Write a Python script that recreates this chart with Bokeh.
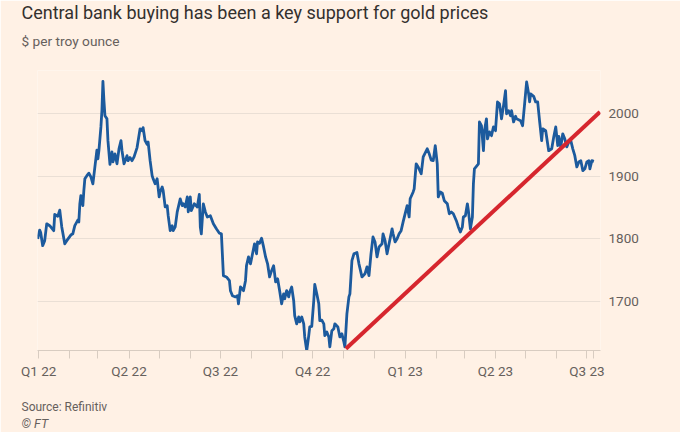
import pandas as pd
from bokeh.plotting import figure
from bokeh.models import Range1d, FixedTicker, Title
from bokeh.embed import file_html
from bokeh.resources import INLINE

# ---- data ----
gold_dates = [
    "2021-12-31", "2022-01-02", "2022-01-03", "2022-01-05", "2022-01-07", "2022-01-09",
    "2022-01-12", "2022-01-16", "2022-01-17", "2022-01-20", "2022-01-22", "2022-01-24",
    "2022-01-27", "2022-01-29", "2022-02-02", "2022-02-04", "2022-02-06", "2022-02-09",
    "2022-02-10", "2022-02-11", "2022-02-12", "2022-02-14", "2022-02-15", "2022-02-16",
    "2022-02-18", "2022-02-20", "2022-02-22", "2022-02-24", "2022-02-26", "2022-02-28",
    "2022-03-01", "2022-03-02", "2022-03-04", "2022-03-05", "2022-03-06", "2022-03-07",
    "2022-03-08", "2022-03-10", "2022-03-11", "2022-03-13", "2022-03-15", "2022-03-16",
    "2022-03-18", "2022-03-20", "2022-03-22", "2022-03-24", "2022-03-25", "2022-03-27",
    "2022-03-30", "2022-03-31", "2022-04-02", "2022-04-04", "2022-04-06", "2022-04-09",
    "2022-04-12", "2022-04-14", "2022-04-15", "2022-04-17", "2022-04-19", "2022-04-20",
    "2022-04-22", "2022-04-24", "2022-04-25", "2022-04-27", "2022-04-29", "2022-05-01",
    "2022-05-02", "2022-05-04", "2022-05-05", "2022-05-07", "2022-05-09", "2022-05-10",
    "2022-05-12", "2022-05-14", "2022-05-15", "2022-05-17", "2022-05-19", "2022-05-22",
    "2022-05-24", "2022-05-25", "2022-05-27", "2022-05-29", "2022-05-30", "2022-06-01",
    "2022-06-02", "2022-06-05", "2022-06-08", "2022-06-10", "2022-06-11", "2022-06-12",
    "2022-06-14", "2022-06-16", "2022-06-18", "2022-06-21", "2022-06-24", "2022-06-27",
    "2022-06-30", "2022-07-02", "2022-07-04", "2022-07-07", "2022-07-10", "2022-07-11",
    "2022-07-13", "2022-07-16", "2022-07-18", "2022-07-19", "2022-07-21", "2022-07-24",
    "2022-07-26", "2022-07-27", "2022-07-29", "2022-07-31", "2022-08-02", "2022-08-04",
    "2022-08-06", "2022-08-07", "2022-08-09", "2022-08-11", "2022-08-13", "2022-08-15",
    "2022-08-17", "2022-08-19", "2022-08-21", "2022-08-23", "2022-08-25", "2022-08-27",
    "2022-08-29", "2022-08-31", "2022-09-02", "2022-09-03", "2022-09-05", "2022-09-07",
    "2022-09-08", "2022-09-10", "2022-09-12", "2022-09-13", "2022-09-15", "2022-09-17",
    "2022-09-18", "2022-09-20", "2022-09-22", "2022-09-23", "2022-09-25", "2022-09-27",
    "2022-09-28", "2022-09-30", "2022-10-02", "2022-10-03", "2022-10-05", "2022-10-07",
    "2022-10-08", "2022-10-10", "2022-10-12", "2022-10-13", "2022-10-15", "2022-10-17",
    "2022-10-18", "2022-10-20", "2022-10-22", "2022-10-23", "2022-10-26", "2022-10-28",
    "2022-10-30", "2022-11-01", "2022-11-02", "2022-11-03", "2022-11-04", "2022-11-06",
    "2022-11-07", "2022-11-09", "2022-11-11", "2022-11-14", "2022-11-16", "2022-11-19",
    "2022-11-22", "2022-11-24", "2022-11-26", "2022-11-28", "2022-11-30", "2022-12-02",
    "2022-12-04", "2022-12-06", "2022-12-09", "2022-12-10", "2022-12-12", "2022-12-14",
    "2022-12-16", "2022-12-19", "2022-12-20", "2022-12-22", "2022-12-24", "2022-12-26",
    "2022-12-28", "2022-12-30", "2023-01-03", "2023-01-05", "2023-01-06", "2023-01-09",
    "2023-01-10", "2023-01-12", "2023-01-14", "2023-01-17", "2023-01-19", "2023-01-23",
    "2023-01-25", "2023-01-27", "2023-01-29", "2023-01-31", "2023-02-02", "2023-02-03",
    "2023-02-05", "2023-02-07", "2023-02-09", "2023-02-12", "2023-02-14", "2023-02-16",
    "2023-02-18", "2023-02-21", "2023-02-23", "2023-02-25", "2023-02-27", "2023-02-28",
    "2023-03-02", "2023-03-04", "2023-03-05", "2023-03-07", "2023-03-09", "2023-03-10",
    "2023-03-11", "2023-03-13", "2023-03-15", "2023-03-16", "2023-03-18", "2023-03-20",
    "2023-03-21", "2023-03-23", "2023-03-24", "2023-03-26", "2023-03-28", "2023-03-30",
    "2023-04-01", "2023-04-03", "2023-04-05", "2023-04-07", "2023-04-09", "2023-04-11",
    "2023-04-12", "2023-04-14", "2023-04-16", "2023-04-17", "2023-04-19", "2023-04-21",
    "2023-04-22", "2023-04-26", "2023-04-28", "2023-04-30", "2023-05-02", "2023-05-04",
    "2023-05-05", "2023-05-06", "2023-05-09", "2023-05-11", "2023-05-13", "2023-05-15",
    "2023-05-17", "2023-05-18", "2023-05-21", "2023-05-24", "2023-05-27", "2023-05-29",
    "2023-05-31", "2023-06-02", "2023-06-03", "2023-06-05", "2023-06-07", "2023-06-09",
    "2023-06-11", "2023-06-13", "2023-06-15", "2023-06-17", "2023-06-19", "2023-06-21",
    "2023-06-23", "2023-06-25", "2023-06-27", "2023-06-29", "2023-07-01", "2023-07-03",
    "2023-07-04", "2023-07-06", "2023-07-08",
]
gold_prices = [
    1800, 1814, 1810, 1789, 1797, 1824,
    1821, 1813, 1839, 1836, 1846, 1819,
    1792, 1797, 1806, 1808, 1821, 1830,
    1827, 1856, 1869, 1853, 1877, 1896,
    1901, 1905, 1899, 1888, 1915, 1942,
    1928, 1941, 1979, 2005, 2052, 2021,
    1997, 1992, 1957, 1919, 1939, 1923,
    1936, 1920, 1944, 1957, 1941, 1920,
    1933, 1925, 1930, 1925, 1931, 1946,
    1976, 1973, 1978, 1957, 1951, 1955,
    1925, 1901, 1896, 1888, 1896, 1867,
    1875, 1883, 1877, 1851, 1853, 1837,
    1813, 1821, 1813, 1819, 1843, 1864,
    1853, 1856, 1851, 1867, 1843, 1867,
    1845, 1856, 1851, 1871, 1819, 1808,
    1856, 1843, 1835, 1837, 1824, 1816,
    1809, 1808, 1741, 1739, 1733, 1717,
    1709, 1707, 1709, 1696, 1723, 1717,
    1733, 1757, 1771, 1760, 1776, 1792,
    1776, 1795, 1793, 1801, 1787, 1771,
    1760, 1739, 1749, 1757, 1731, 1736,
    1717, 1696, 1712, 1704, 1717, 1707,
    1715, 1723, 1701, 1677, 1664, 1675,
    1667, 1675, 1664, 1643, 1621, 1645,
    1659, 1660, 1701, 1727, 1712, 1696,
    1669, 1670, 1664, 1645, 1651, 1643,
    1627, 1653, 1656, 1664, 1659, 1643,
    1648, 1635, 1627, 1653, 1680, 1707,
    1712, 1765, 1776, 1778, 1760, 1739,
    1744, 1755, 1741, 1776, 1803, 1795,
    1771, 1787, 1792, 1808, 1797, 1776,
    1792, 1816, 1808, 1795, 1800, 1808,
    1813, 1827, 1853, 1835, 1864, 1875,
    1880, 1920, 1915, 1904, 1931, 1944,
    1936, 1926, 1925, 1949, 1920, 1867,
    1875, 1873, 1861, 1856, 1840, 1843,
    1840, 1829, 1819, 1811, 1819, 1835,
    1837, 1856, 1845, 1816, 1835, 1888,
    1912, 1916, 1920, 1987, 1981, 1941,
    1973, 1992, 1960, 1971, 1965, 1979,
    1973, 2019, 2016, 1992, 2013, 2037,
    2000, 2005, 1997, 2005, 1987, 1996,
    1992, 1989, 1981, 2016, 2051, 2032,
    2019, 2032, 2028, 2019, 2019, 1987,
    1957, 1976, 1973, 1941, 1944, 1963,
    1979, 1949, 1964, 1947, 1968, 1960,
    1947, 1955, 1957, 1944, 1933, 1915,
    1923, 1925, 1909, 1912, 1923, 1925,
    1912, 1925, 1924,
]

trend_dates = ["2022-11-03", "2023-07-14"]
trend_values = [1624, 2003]

quarter_dates = ["2022-01-01", "2022-04-01", "2022-07-01", "2022-10-01",
                 "2023-01-01", "2023-04-01", "2023-07-01"]
quarter_labels = ["Q1 22", "Q2 22", "Q3 22", "Q4 22", "Q1 23", "Q2 23", "Q3 23"]
month_tick_dates = ["2022-02-01", "2022-03-01", "2022-05-01", "2022-06-01",
                    "2022-08-01", "2022-09-01", "2022-11-01", "2022-12-01",
                    "2023-02-01", "2023-03-01", "2023-05-01", "2023-06-01",
                    "2023-07-08"]
y_ticks = [1700, 1800, 1900, 2000]

title_text = "Central bank buying has been a key support for gold prices"
subtitle_text = "$ per troy ounce"
source_text = "Source: Refinitiv"
credit_text = "© FT"

# ---- styling / layout ----
BG = "#FFF1E5"
BLUE = "#1c5a9d"
RED = "#d6262e"
GREY_TXT = "#66605c"
GRID = "#eadfd5"
FONT = "Roboto"

W, H = 680, 432
FL, FR, FT_, FB = 37, 600, 70, 350          # frame edges in page pixels
X0, X1 = pd.Timestamp("2021-12-30 20:00"), pd.Timestamp("2023-07-14 14:00")
Y0, Y1 = 1621.3, 2069.3


def ms(d):
    return pd.Timestamp(d).value / 1e6


x = [pd.Timestamp(d) for d in gold_dates]
tx = [pd.Timestamp(d) for d in trend_dates]

p = figure(width=W, height=H, x_axis_type="datetime", y_axis_location="right",
           output_backend="svg", toolbar_location=None, title=None,
           min_border_left=FL, min_border_right=W - FR, min_border_top=FT_,
           min_border_bottom=H - FB,
           x_range=Range1d(X0, X1), y_range=Range1d(Y0, Y1))
p.background_fill_color = BG
p.border_fill_color = BG
p.outline_line_color = None

p.line(x, gold_prices, line_color=BLUE, line_width=2.8, line_join="round")
p.line(tx, trend_values, line_color=RED, line_width=4)

# x axis
q_ms = [ms(d) for d in quarter_dates]
p.xaxis.ticker = FixedTicker(ticks=q_ms, minor_ticks=[ms(d) for d in month_tick_dates])
p.xaxis.major_label_overrides = {t: lab for t, lab in zip(q_ms, quarter_labels)}
p.xaxis.axis_line_color = "#d8ccc1"
p.xaxis.major_tick_line_color = "#d8ccc1"
p.xaxis.minor_tick_line_color = "#d8ccc1"
p.xaxis.major_tick_in = 0
p.xaxis.major_tick_out = 8
p.xaxis.minor_tick_in = 0
p.xaxis.minor_tick_out = 8
p.xaxis.major_label_standoff = 4
p.xaxis.major_label_text_font = FONT
p.xaxis.major_label_text_font_size = "13.5px"
p.xaxis.major_label_text_color = GREY_TXT
p.xgrid.grid_line_color = None

# y axis
p.yaxis.ticker = FixedTicker(ticks=y_ticks)
p.yaxis.axis_line_color = None
p.yaxis.major_tick_line_color = None
p.yaxis.minor_tick_line_color = None
p.yaxis.major_label_standoff = 2
p.yaxis.major_label_text_font = FONT
p.yaxis.major_label_text_font_size = "13.5px"
p.yaxis.major_label_text_color = GREY_TXT
p.ygrid.ticker = FixedTicker(ticks=y_ticks)
p.ygrid.grid_line_color = GRID
p.ygrid.grid_line_width = 1


# texts in the side panels (first added sits nearest the frame)
def add_title(text, place, size, color, standoff, style="normal"):
    p.add_layout(Title(text=text, align="left", offset=21 - FL, standoff=standoff,
                       text_font=FONT, text_font_size=size, text_color=color,
                       text_font_style=style), place)


add_title(" ", "above", "1px", BG, 4)            # spacer over the frame
add_title(subtitle_text, "above", "13.7px", GREY_TXT, 30)
add_title(title_text, "above", "18px", "#33302e", -15)
add_title(" ", "below", "1px", BG, 13)           # spacer under the axis
add_title(source_text, "below", "12px", GREY_TXT, 0)
add_title(credit_text, "below", "12.5px", GREY_TXT, 0, style="italic")

open("out.html", "w").write(file_html(p, INLINE))
